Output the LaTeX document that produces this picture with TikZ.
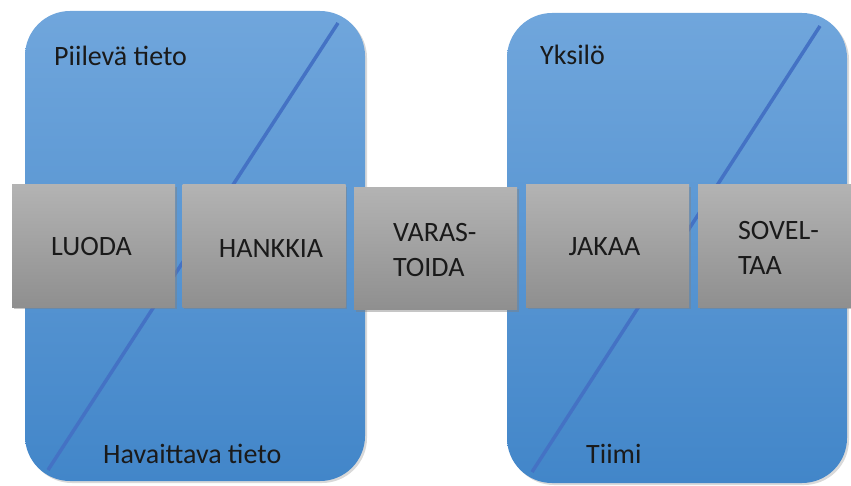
\documentclass[tikz,border=0pt]{standalone}
\usepackage{fontspec}
\setmainfont{Carlito}
\usetikzlibrary{shadows}
\definecolor{panelTop}{HTML}{70A6DC}
\definecolor{panelBot}{HTML}{4286C9}
\definecolor{lineBlue}{HTML}{4472C4}
\definecolor{boxTop}{HTML}{B3B3B3}
\definecolor{boxBot}{HTML}{8F8F8F}
\definecolor{txt}{HTML}{1A1A1A}
\begin{document}
\begin{tikzpicture}[x=1pt,y=-1pt,
  panel/.style={rounded corners=45pt, top color=panelTop, bottom color=panelBot,
    drop shadow={opacity=0.3, shadow xshift=2pt, shadow yshift=-2pt}},
  diag/.style={draw=lineBlue, line width=3.5pt},
  stepbox/.style={draw=none, top color=boxTop, bottom color=boxBot,
    minimum width=163pt, minimum height=122pt, inner sep=0pt,
    drop shadow={opacity=0.45, shadow xshift=1.5pt, shadow yshift=-2pt}},
  boxtext/.style={font=\fontsize{28}{35}\selectfont, text=txt, inner sep=0pt, align=left},
  lbl/.style={font=\fontsize{28}{34}\selectfont, text=txt, inner sep=0pt, anchor=base west}]
\useasboundingbox (0,0) rectangle (851,486);
% panels
\path[panel] (25,11) rectangle (365,481);
\path[panel] (507,13) rectangle (847,483);
% diagonals
\coordinate (d1a) at (48,470);
\coordinate (d1b) at (338,23);
\coordinate (d2a) at (532,472);
\coordinate (d2b) at (820,26);
\draw[diag] (d1a) -- (d1b);
\draw[diag] (d2a) -- (d2b);
% labels
\node[lbl] (piil) at (54,66) {Piilevä tieto};
\node[lbl] (hav) at (103,463) {Havaittava tieto};
\node[lbl] (yks) at (540,65) {Yksilö};
\node[lbl] (tiimi) at (586,463) {Tiimi};
% boxes
\node[stepbox] (luoda) at (93.5,246) {};
\node[stepbox] (hankkia) at (264,246) {};
\node[stepbox] (varas) at (435.5,248.5) {};
\node[stepbox] (jakaa) at (607.5,246) {};
\node[stepbox] (sovel) at (779.5,246) {};
% box texts
\node[boxtext] (tluoda) at ([shift={(-2,1)}]luoda.center) {LUODA};
\node[boxtext] (thank) at ([shift={(7,3)}]hankkia.center) {HANKKIA};
\node[boxtext, anchor=west] (tvaras) at ([shift={(39,2)}]varas.west) {VARAS-\\TOIDA};
\node[boxtext] (tjakaa) at ([shift={(-3,1)}]jakaa.center) {JAKAA};
\node[boxtext, anchor=west] (tsovel) at ([shift={(40,2)}]sovel.west) {SOVEL-\\TAA};
\end{tikzpicture}
\end{document}
